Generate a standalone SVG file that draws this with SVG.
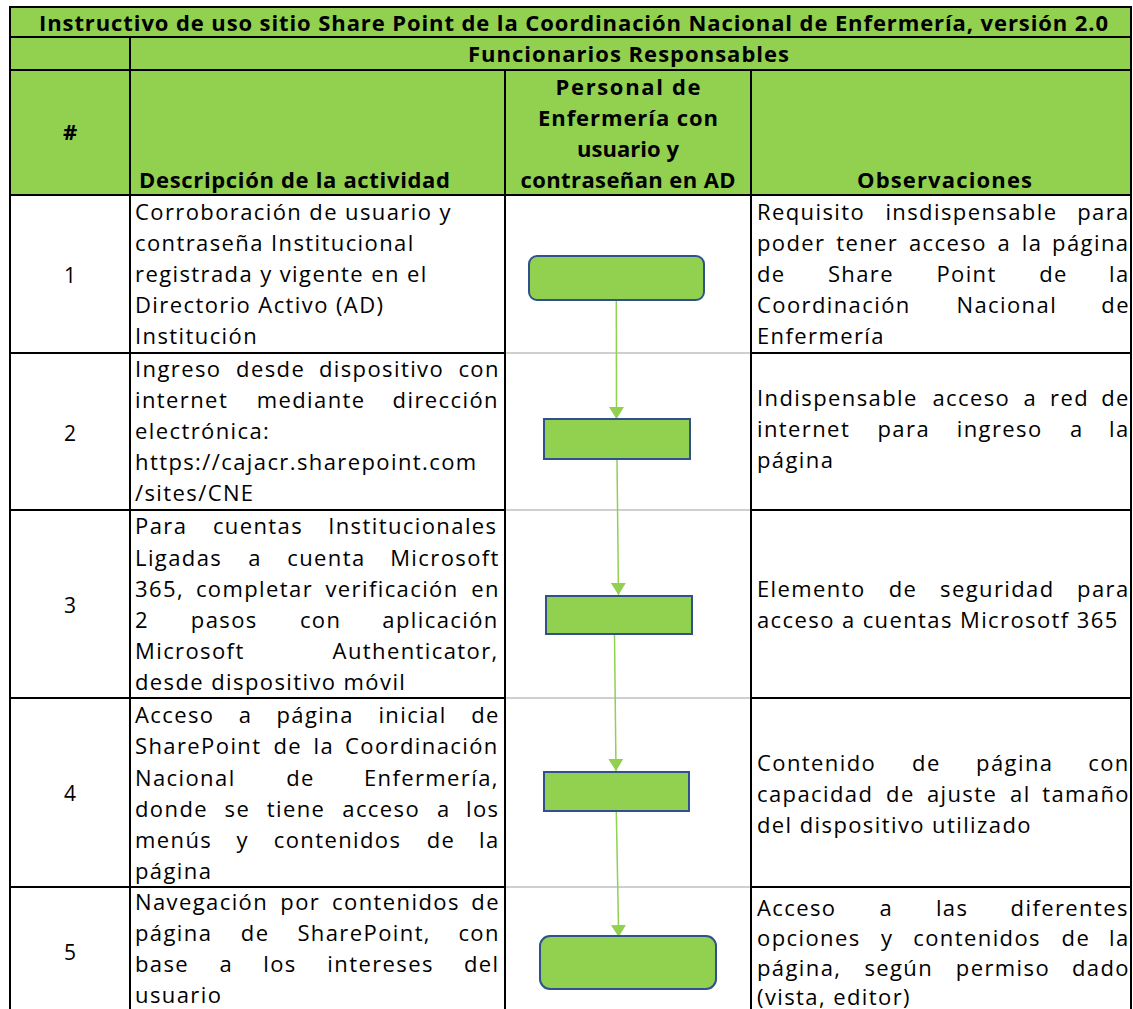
<svg xmlns="http://www.w3.org/2000/svg" width="1133" height="1009" viewBox="0 0 1133 1009">
<style>
.hb{font-family:"Open Sans","Noto Sans","DejaVu Sans",sans-serif;font-size:22px;font-weight:bold;fill:#000}
.t{font-family:"Open Sans","Noto Sans","DejaVu Sans",sans-serif;font-size:22px;letter-spacing:1.4px;fill:#000}
.n{font-family:"Open Sans","Noto Sans","DejaVu Sans",sans-serif;font-size:21px;fill:#000;text-anchor:middle}
.grid{stroke:#000;stroke-width:2;fill:none}
.gray{stroke:#CFCFCF;stroke-width:2;fill:none}
.box{fill:#92D050;stroke:#2F528F;stroke-width:2}
.conn{stroke:#92D050;stroke-width:1.5;fill:none}
</style>
<defs>
<marker id="ah" viewBox="0 0 12 15" refX="12" refY="7.5" markerWidth="12" markerHeight="15" markerUnits="userSpaceOnUse" orient="auto">
<path d="M0,0 L12,7.5 L0,15 z" fill="#92D050"/>
</marker>
</defs>
<rect x="0" y="0" width="1133" height="1009" fill="#fff"/>
<g id="table">
<rect x="10" y="7" width="1121" height="188" fill="#92D050"/>
<g class="gray">
<line x1="505" y1="353" x2="751" y2="353"/>
<line x1="505" y1="510" x2="751" y2="510"/>
<line x1="505" y1="698" x2="751" y2="698"/>
<line x1="505" y1="887" x2="751" y2="887"/>
</g>
<g class="grid">
<line x1="9" y1="7" x2="1132" y2="7"/>
<line x1="10" y1="37" x2="1131" y2="37"/>
<line x1="10" y1="70" x2="1131" y2="70"/>
<line x1="10" y1="195" x2="1131" y2="195"/>
<line x1="10" y1="353" x2="505" y2="353"/>
<line x1="751" y1="353" x2="1131" y2="353"/>
<line x1="10" y1="510" x2="505" y2="510"/>
<line x1="751" y1="510" x2="1131" y2="510"/>
<line x1="10" y1="698" x2="505" y2="698"/>
<line x1="751" y1="698" x2="1131" y2="698"/>
<line x1="10" y1="887" x2="505" y2="887"/>
<line x1="751" y1="887" x2="1131" y2="887"/>
<line x1="10" y1="6" x2="10" y2="1009"/>
<line x1="1131" y1="6" x2="1131" y2="1009"/>
<line x1="130" y1="37" x2="130" y2="1009"/>
<line x1="505" y1="70" x2="505" y2="1009"/>
<line x1="751" y1="70" x2="751" y2="1009"/>
</g>
</g>
<g id="headers">
<text class="hb" x="573.5" y="31" text-anchor="middle" textLength="1069" lengthAdjust="spacing">Instructivo de uso sitio Share Point de la Coordinación Nacional de Enfermería, versión 2.0</text>
<text class="hb" x="628.5" y="62" text-anchor="middle" textLength="321" lengthAdjust="spacing">Funcionarios Responsables</text>
<text class="hb" x="70" y="140" text-anchor="middle">#</text>
<text class="hb" x="139" y="188" textLength="311" lengthAdjust="spacing">Descripción de la actividad</text>
<text class="hb" x="628" y="95" text-anchor="middle" textLength="145" lengthAdjust="spacing">Personal de</text>
<text class="hb" x="628" y="126" text-anchor="middle" textLength="180" lengthAdjust="spacing">Enfermería con</text>
<text class="hb" x="628" y="157" text-anchor="middle" textLength="102" lengthAdjust="spacing">usuario y</text>
<text class="hb" x="628" y="188" text-anchor="middle" textLength="215" lengthAdjust="spacing">contraseñan en AD</text>
<text class="hb" x="944.5" y="188" text-anchor="middle" textLength="175" lengthAdjust="spacing">Observaciones</text>
</g>
<g id="row1">
<text class="n" x="70" y="283">1</text>
<text class="t" x="135" y="220">Corroboración de usuario y</text>
<text class="t" x="135" y="251">contraseña Institucional</text>
<text class="t" x="135" y="282">registrada y vigente en el</text>
<text class="t" x="135" y="313">Directorio Activo (AD)</text>
<text class="t" x="135" y="344">Institución</text>
<text class="t" y="220"><tspan x="757">Requisito</tspan><tspan x="885.4">insdispensable</tspan><tspan x="1077.2">para</tspan></text>
<text class="t" y="251"><tspan x="757">poder</tspan><tspan x="836.2">tener</tspan><tspan x="909">acceso</tspan><tspan x="997.6">a</tspan><tspan x="1021.7">la</tspan><tspan x="1052.1">página</tspan></text>
<text class="t" y="282"><tspan x="757">de</tspan><tspan x="827.9">Share</tspan><tspan x="936.4">Point</tspan><tspan x="1039.2">de</tspan><tspan x="1109.1">la</tspan></text>
<text class="t" y="313"><tspan x="757">Coordinación</tspan><tspan x="956.5">Nacional</tspan><tspan x="1101.3">de</tspan></text>
<text class="t" x="757" y="344">Enfermería</text>
</g>
<g id="row2">
<text class="n" x="70" y="441">2</text>
<text class="t" y="377"><tspan x="135">Ingreso</tspan><tspan x="236.1">desde</tspan><tspan x="318.9">dispositivo</tspan><tspan x="458.4">con</tspan></text>
<text class="t" y="408"><tspan x="135">internet</tspan><tspan x="256.7">mediante</tspan><tspan x="392.6">dirección</tspan></text>
<text class="t" x="135" y="439">electrónica:</text>
<text class="t" x="135" y="470">https://cajacr.sharepoint.com</text>
<text class="t" x="135" y="501">/sites/CNE</text>
<text class="t" y="406"><tspan x="757">Indispensable</tspan><tspan x="932.4">acceso</tspan><tspan x="1023.5">a</tspan><tspan x="1050.1">red</tspan><tspan x="1101.2">de</tspan></text>
<text class="t" y="437"><tspan x="757">internet</tspan><tspan x="877.5">para</tspan><tspan x="956.7">ingreso</tspan><tspan x="1069.9">a</tspan><tspan x="1109">la</tspan></text>
<text class="t" x="757" y="468">página</text>
</g>
<g id="row3">
<text class="n" x="70" y="613">3</text>
<text class="t" y="534"><tspan x="135">Para</tspan><tspan x="212.9">cuentas</tspan><tspan x="328.2">Institucionales</tspan></text>
<text class="t" y="566"><tspan x="135">Ligadas</tspan><tspan x="248.2">a</tspan><tspan x="287.2">cuenta</tspan><tspan x="390.2">Microsoft</tspan></text>
<text class="t" y="597"><tspan x="135">365,</tspan><tspan x="195.9">completar</tspan><tspan x="325.4">verificación</tspan><tspan x="471.3">en</tspan></text>
<text class="t" y="628"><tspan x="135">2</tspan><tspan x="190.8">pasos</tspan><tspan x="299.9">con</tspan><tspan x="382.3">aplicación</tspan></text>
<text class="t" y="659"><tspan x="135">Microsoft</tspan><tspan x="332.6">Authenticator,</tspan></text>
<text class="t" x="135" y="690">desde dispositivo móvil</text>
<text class="t" y="597"><tspan x="757">Elemento</tspan><tspan x="888.7">de</tspan><tspan x="940">seguridad</tspan><tspan x="1077.1">para</tspan></text>
<text class="t" x="757" y="628">acceso a cuentas Microsotf 365</text>
</g>
<g id="row4">
<text class="n" x="70" y="801">4</text>
<text class="t" y="723"><tspan x="135">Acceso</tspan><tspan x="238.8">a</tspan><tspan x="276.5">página</tspan><tspan x="378.4">inicial</tspan><tspan x="471.2">de</tspan></text>
<text class="t" y="754"><tspan x="135">SharePoint</tspan><tspan x="273.4">de</tspan><tspan x="313.6">la</tspan><tspan x="345.1">Coordinación</tspan></text>
<text class="t" y="786"><tspan x="135">Nacional</tspan><tspan x="286.2">de</tspan><tspan x="363.9">Enfermería,</tspan></text>
<text class="t" y="817"><tspan x="135">donde</tspan><tspan x="224.5">se</tspan><tspan x="266.7">tiene</tspan><tspan x="342.3">acceso</tspan><tspan x="436.9">a</tspan><tspan x="466">los</tspan></text>
<text class="t" y="848"><tspan x="135">menús</tspan><tspan x="236.6">y</tspan><tspan x="273.7">contenidos</tspan><tspan x="426.7">de</tspan><tspan x="479">la</tspan></text>
<text class="t" x="135" y="879">página</text>
<text class="t" y="771"><tspan x="757">Contenido</tspan><tspan x="912.1">de</tspan><tspan x="976.1">página</tspan><tspan x="1088.3">con</tspan></text>
<text class="t" y="802"><tspan x="757">capacidad</tspan><tspan x="886.1">de</tspan><tspan x="926.9">ajuste</tspan><tspan x="1010.1">al</tspan><tspan x="1042.2">tamaño</tspan></text>
<text class="t" x="757" y="833">del dispositivo utilizado</text>
</g>
<g id="row5">
<text class="n" x="70" y="960">5</text>
<text class="t" y="910"><tspan x="135">Navegación</tspan><tspan x="280.3">por</tspan><tspan x="332.1">contenidos</tspan><tspan x="471.3">de</tspan></text>
<text class="t" y="941"><tspan x="135">página</tspan><tspan x="240.8">de</tspan><tspan x="297.4">SharePoint,</tspan><tspan x="458.4">con</tspan></text>
<text class="t" y="972"><tspan x="135">base</tspan><tspan x="219.4">a</tspan><tspan x="263.2">los</tspan><tspan x="327.3">intereses</tspan><tspan x="464">del</tspan></text>
<text class="t" x="135" y="1003">usuario</text>
<text class="t" y="916"><tspan x="757">Acceso</tspan><tspan x="879.5">a</tspan><tspan x="935.9">las</tspan><tspan x="1010.6">diferentes</tspan></text>
<text class="t" y="946"><tspan x="757">opciones</tspan><tspan x="881">y</tspan><tspan x="913.3">contenidos</tspan><tspan x="1061.6">de</tspan><tspan x="1109.1">la</tspan></text>
<text class="t" y="976"><tspan x="757">página,</tspan><tspan x="864.4">según</tspan><tspan x="955.8">permiso</tspan><tspan x="1071.9">dado</tspan></text>
<text class="t" x="757" y="1005">(vista, editor)</text>
</g>
<g id="connectors">
<line class="conn" x1="616.3" y1="301" x2="616.5" y2="419" marker-end="url(#ah)"/>
<line class="conn" x1="617" y1="460" x2="618.5" y2="595" marker-end="url(#ah)"/>
<line class="conn" x1="614.5" y1="635" x2="616" y2="771" marker-end="url(#ah)"/>
<line class="conn" x1="616.3" y1="812" x2="618.7" y2="937" marker-end="url(#ah)"/>
</g>
<g id="step1"><rect class="box" x="529" y="256" width="175" height="44" rx="8"/></g>
<g id="step2"><rect class="box" x="544" y="419" width="146" height="40"/></g>
<g id="step3"><rect class="box" x="546" y="596" width="146" height="38"/></g>
<g id="step4"><rect class="box" x="544" y="772" width="145" height="39"/></g>
<g id="step5"><rect class="box" x="540" y="936" width="176" height="53" rx="10"/></g>
</svg>
